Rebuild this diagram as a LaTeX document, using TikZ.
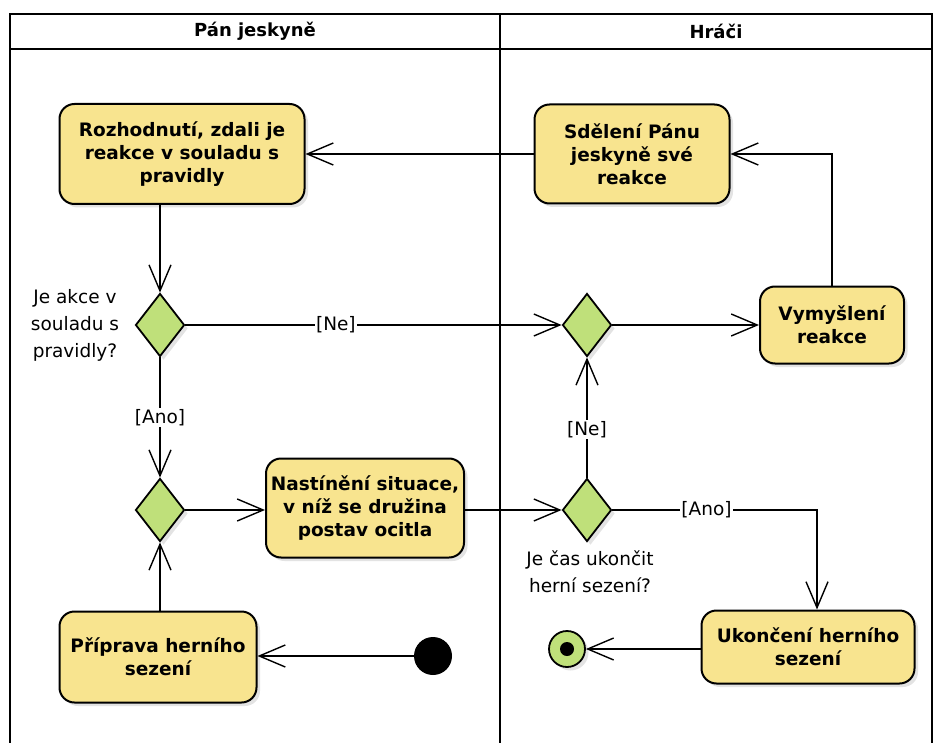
\documentclass[tikz,border=0pt]{standalone}
\usepackage{fontspec}
\setmainfont{DejaVu Sans}
\usetikzlibrary{arrows.meta,shapes.geometric,shadows}
\definecolor{boxyellow}{RGB}{248,228,143}
\definecolor{diagreen}{RGB}{191,224,122}
\begin{document}
\begin{tikzpicture}[x=1pt,y=-1pt,
  shadowed/.style={drop shadow={shadow xshift=3.5pt,shadow yshift=-3.5pt,fill=black!22}},
  act/.style={draw, line width=2pt, fill=boxyellow, rounded corners=15pt, align=center,
    font=\fontsize{18.5}{23}\selectfont\bfseries, inner sep=2pt, shadowed},
  dec/.style={draw, line width=1.8pt, fill=diagreen, diamond, inner sep=0pt,
    minimum width=49pt, minimum height=63pt, shadowed},
  flow/.style={line width=1.4pt, -{Straight Barb[length=26pt,width=22pt]}},
  lbl/.style={fill=white, inner sep=1pt, font=\fontsize{18.5}{22}\selectfont},
  note/.style={align=center, font=\fontsize{18.5}{27}\selectfont},
  lane/.style={line width=1.9pt},
  head/.style={font=\fontsize{18}{22}\selectfont\bfseries}
]
\useasboundingbox (0,0) rectangle (936,743);
% swimlanes
\draw[lane] (10,743) -- (10,14) -- (932,14) -- (932,743);
\draw[lane] (10,49) -- (932,49);
\draw[lane] (500,14) -- (500,743);
\node[head] (h1) at (255,31) {Pán jeskyně};
\node[head] (h2) at (716,31) {Hráči};

% activities
\node[act, minimum width=245pt, minimum height=100pt] (rz) at (182,154) {Rozhodnutí, zdali je\\reakce v souladu s\\pravidly};
\node[act, minimum width=195pt, minimum height=99pt] (sd) at (632,154) {Sdělení Pánu\\jeskyně své\\reakce};
\node[act, minimum width=144pt, minimum height=77pt] (vy) at (832,325) {Vymyšlení\\reakce};
\node[act, minimum width=198pt, minimum height=99pt] (na) at (365,508) {Nastínění situace,\\v níž se družina\\postav ocitla};
\node[act, minimum width=197pt, minimum height=91pt] (pr) at (158,657) {Příprava herního\\sezení};
\node[act, minimum width=213pt, minimum height=73pt] (uk) at (808,647) {Ukončení herního\\sezení};

% decisions
\node[dec] (d1) at (160,325) {};
\node[dec] (d2) at (587,325) {};
\node[dec] (d3) at (160,510) {};
\node[dec] (d4) at (587,510) {};

% start / end
\node[circle, fill=black, minimum size=38pt, inner sep=0pt] (start) at (433,656) {};
\node[circle, draw, line width=1.8pt, fill=diagreen, minimum size=36pt, inner sep=0pt, shadowed] (end) at (567,649) {};
\node[circle, fill=black, minimum size=14pt, inner sep=0pt] (enddot) at (end) {};

% notes
\node[note] (n1) at (75,325) {Je akce v\\souladu s\\pravidly?};
\node[note] (n2) at (590,572) {Je čas ukončit\\herní sezení?};

% connectors
\draw[flow] (sd.west) -- (rz.east);
\draw[flow] (rz.south -| d1) -- (d1.north);
\draw[flow] (d1.east) -- node[lbl, pos=0.4] {[Ne]} (d2.west);
\draw[flow] (d1.south) -- node[lbl] {[Ano]} (d3.north);
\draw[flow] (d2.east) -- (vy.west);
\draw[flow] (vy.north) |- (sd.east);
\draw[flow] (d3.east) -- (d3.east -| na.west);
\draw[flow] (na.east |- d4) -- (d4.west);
\draw[flow] (d4.north) -- node[lbl, pos=0.4] {[Ne]} (d2.south);
\draw[flow] (d4.east) -| node[lbl, pos=0.23] {[Ano]} ([xshift=9pt]uk.north);
\draw[flow] (uk.west |- end) -- (end.east);
\draw[flow] (start.west) -- (start.west -| pr.east);
\draw[flow] (pr.north -| d3) -- (d3.south);
\end{tikzpicture}
\end{document}
